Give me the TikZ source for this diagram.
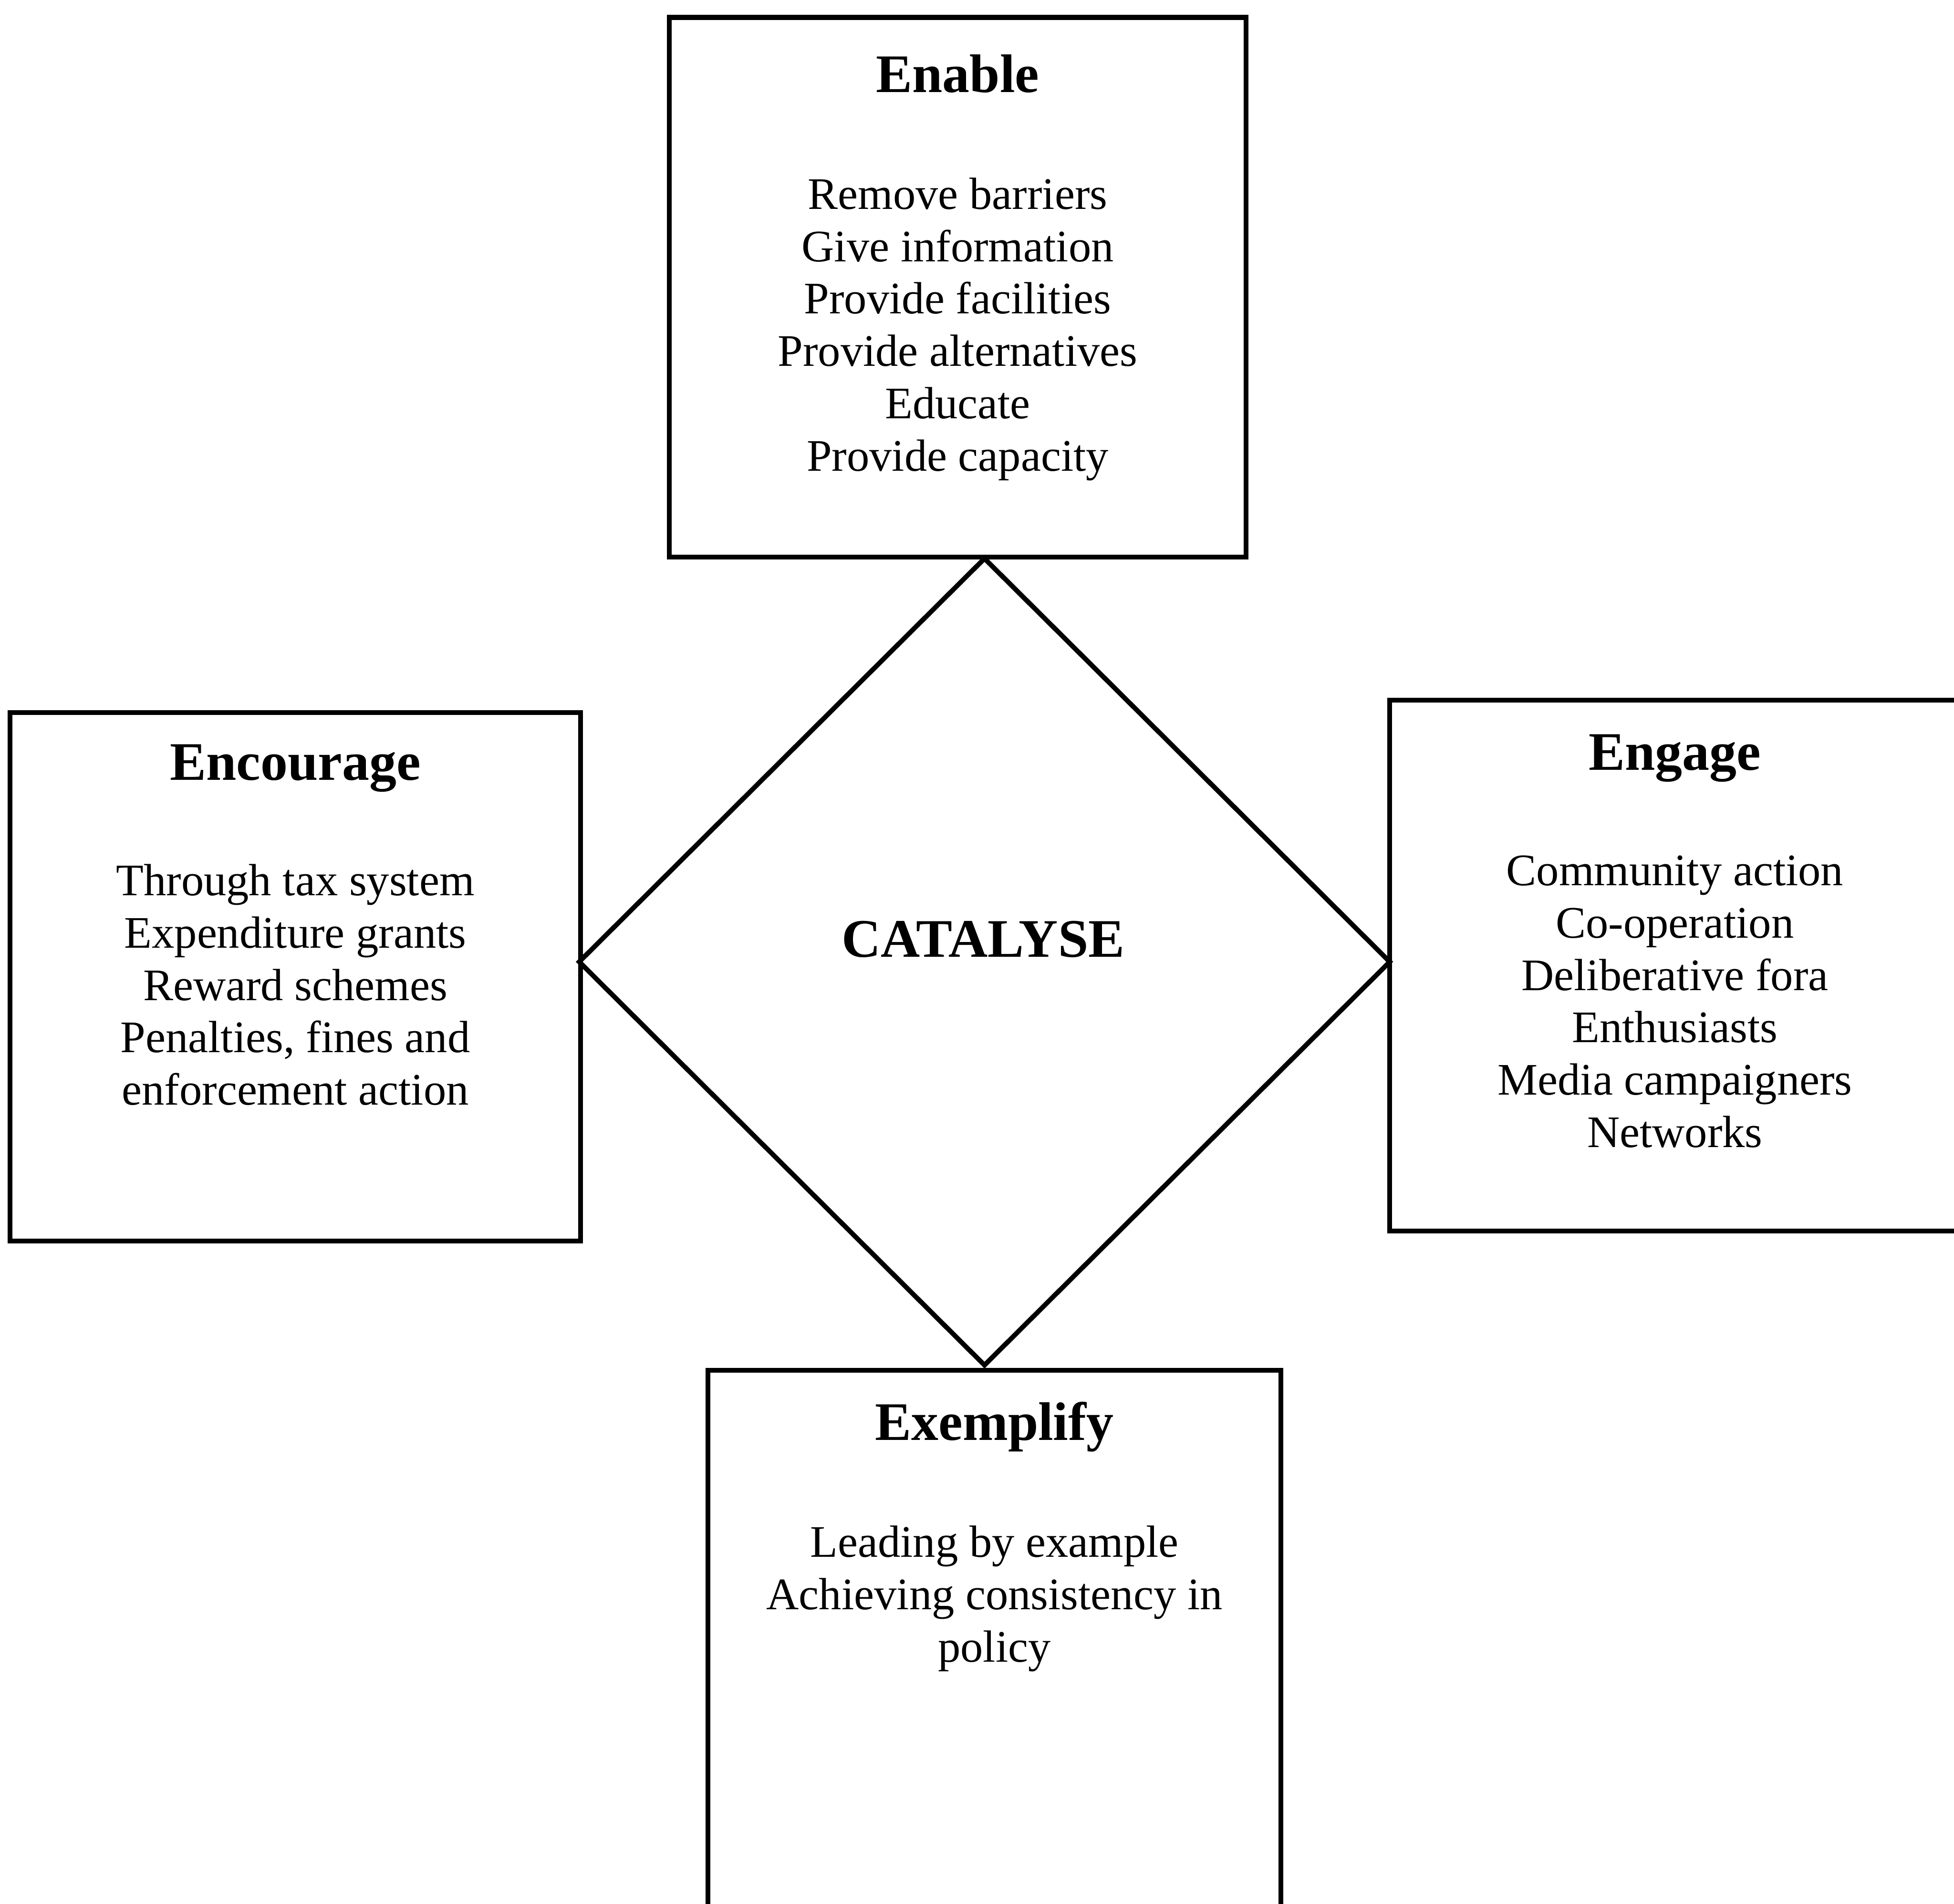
\documentclass[tikz,border=0pt]{standalone}
\usepackage{fontspec}
\setmainfont{Liberation Serif}
\usetikzlibrary{shapes.geometric}

\begin{document}
\begin{tikzpicture}[
    box/.style={rectangle, draw=black, line width=1.1pt, inner sep=0pt},
    hub/.style={diamond, draw=black, line width=1.1pt, inner sep=0pt, aspect=1},
    head/.style={anchor=base, inner sep=0pt, font=\fontsize{12.4}{14}\selectfont\bfseries},
    body/.style={anchor=north, inner sep=0pt, align=center, font=\fontsize{10.3}{11.95}\selectfont},
]
\useasboundingbox (0,0) rectangle (15.68,15.28);

% the four boxes round the diamond
\node[box, minimum width=4.63cm, minimum height=4.33cm] (enable) at (7.685,12.975) {};
\node[box, minimum width=4.58cm, minimum height=4.24cm] (encourage) at (2.37,7.44) {};
\node[box, minimum width=4.58cm, minimum height=4.26cm] (engage) at (13.44,7.53) {};
\node[box, minimum width=4.60cm, minimum height=4.43cm] (exemplify) at (7.98,2.065) {};

\node[hub, minimum width=6.52cm, minimum height=6.49cm] (catalyse) at (7.90,7.56) {};
\node[head] (catalyseHead) at (7.89,7.60) {CATALYSE};

\node[head] (enableHead) at ([yshift=-0.62cm]enable.north) {Enable};
\node[body] (enableList) at ([yshift=-1.30cm]enable.north) {Remove barriers\\Give information\\Provide facilities\\Provide alternatives\\Educate\\Provide capacity};

\node[head] (encourageHead) at ([yshift=-0.56cm]encourage.north) {Encourage};
\node[body] (encourageList) at ([yshift=-1.23cm]encourage.north) {Through tax system\\Expenditure grants\\Reward schemes\\Penalties, fines and\\enforcement action};

\node[head] (engageHead) at ([yshift=-0.58cm]engage.north) {Engage};
\node[body] (engageList) at ([yshift=-1.26cm]engage.north) {Community action\\Co-operation\\Deliberative fora\\Enthusiasts\\Media campaigners\\Networks};

\node[head] (exemplifyHead) at ([yshift=-0.58cm]exemplify.north) {Exemplify};
\node[body] (exemplifyList) at ([yshift=-1.26cm]exemplify.north) {Leading by example\\Achieving consistency in\\policy};
\end{tikzpicture}
\end{document}
